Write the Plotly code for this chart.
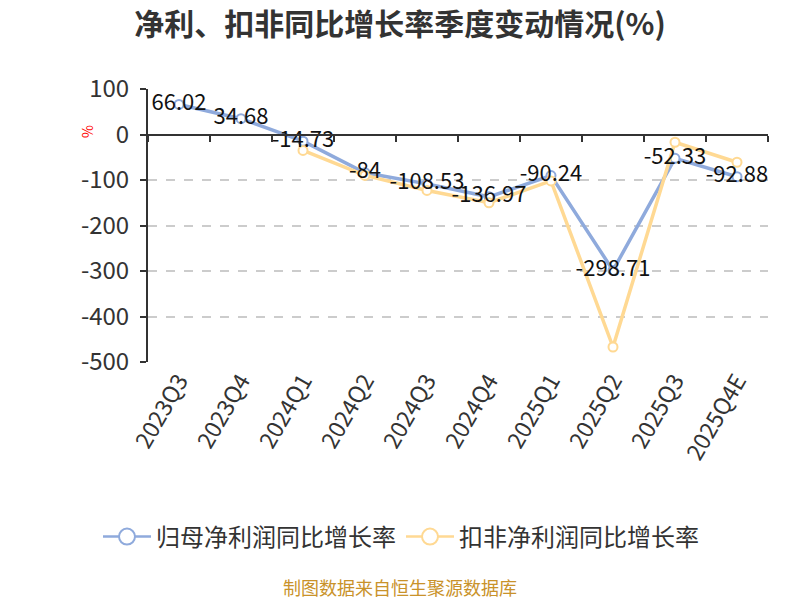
import plotly.graph_objects as go

categories = ["2023Q3", "2023Q4", "2024Q1", "2024Q2", "2024Q3", "2024Q4", "2025Q1", "2025Q2", "2025Q3", "2025Q4E"]
parent_growth = [66.02, 34.68, -14.73, -84, -108.53, -136.97, -90.24, -298.71, -52.33, -92.88]
deducted_growth = [66.02, 34.68, -35, -90, -123, -150, -102, -467, -17, -61]
parent_labels = ["66.02", "34.68", "-14.73", "-84", "-108.53", "-136.97", "-90.24", "-298.71", "-52.33", "-92.88"]
y_ticks = [100, 0, -100, -200, -300, -400, -500]
y_ticktext = ["100", "0", "-100", "-200", "-300", "-400", "-500"]
series_names = ["归母净利润同比增长率", "扣非净利润同比增长率"]

BLUE = "#8FAADC"
ORANGE = "#FFD993"
FONT = "Noto Sans CJK SC"

# deducted series starts at 2024Q1
ded_x = categories[2:]
ded_y = deducted_growth[2:]

fig = go.Figure()
fig.add_trace(go.Scatter(
    x=categories, y=parent_growth, mode="lines+markers", name=series_names[0],
    line=dict(color=BLUE, width=3.5), showlegend=False,
    marker=dict(symbol="circle", size=9, color="white", line=dict(color=BLUE, width=2)),
    xaxis="x", yaxis="y",
))
fig.add_trace(go.Scatter(
    x=ded_x, y=ded_y, mode="lines+markers", name=series_names[1],
    line=dict(color=ORANGE, width=3.5), showlegend=False,
    marker=dict(symbol="circle", size=9, color="white", line=dict(color=ORANGE, width=2)),
    xaxis="x", yaxis="y",
))
fig.add_trace(go.Scatter(
    x=categories, y=parent_growth, mode="text", text=parent_labels,
    textposition="middle center", textfont=dict(size=22, color="#111", family=FONT),
    showlegend=False, hoverinfo="skip", xaxis="x2", yaxis="y",
))
# legend entries (larger icons)
for nm, col in zip(series_names, [BLUE, ORANGE]):
    fig.add_trace(go.Scatter(
        x=[None], y=[None], mode="lines+markers", name=nm,
        line=dict(color=col, width=2.5),
        marker=dict(symbol="circle", size=16, color="white", line=dict(color=col, width=2)),
        xaxis="x", yaxis="y",
    ))

zero_pos = (0 - (-500)) / (100 - (-500))

fig.update_layout(
    width=800, height=600,
    margin=dict(l=148, r=32, t=89, b=238),
    paper_bgcolor="white", plot_bgcolor="white",
    font=dict(family=FONT, color="#333"),
    title=dict(text="<b>净利、扣非同比增长率季度变动情况(%)</b>", x=0.5, xanchor="center",
               y=1 - 24 / 600, yanchor="middle", font=dict(size=30, color="#333", family=FONT)),
    xaxis=dict(type="category", categoryorder="array", categoryarray=categories,
               range=[-0.5, 9.5], showline=False, showgrid=False, zeroline=False,
               ticks="", tickangle=-60, tickfont=dict(size=23, color="#333", family=FONT)),
    xaxis2=dict(type="category", categoryorder="array", categoryarray=categories,
                overlaying="x", anchor="free", position=zero_pos, matches="x",
                showline=True, linecolor="#333", linewidth=2, ticks="outside",
                tickson="boundaries", ticklen=6, tickcolor="#333", tickwidth=2,
                showticklabels=False, showgrid=False, zeroline=False),
    yaxis=dict(range=[-500, 100], tickvals=y_ticks, ticktext=y_ticktext,
               showline=True, linecolor="#333", linewidth=2, ticks="outside", ticklen=6,
               tickcolor="#333", tickwidth=2, showgrid=True, gridcolor="#cccccc", griddash="dash",
               gridwidth=1.5, zeroline=False, ticklabelstandoff=6,
               tickfont=dict(size=24, color="#333", family=FONT)),
    legend=dict(orientation="h", x=(401 - 148) / 620, xanchor="center", y=-(537 - 362) / 273,
                yanchor="middle", font=dict(size=24, color="#333", family=FONT), itemwidth=48),
    annotations=[
        dict(text="%", xref="paper", yref="paper", x=-(148 - 87) / 620, y=(362 - 132) / 273,
             xanchor="center", yanchor="middle", showarrow=False, textangle=-90,
             font=dict(size=14, color="red", family=FONT)),
        dict(text="制图数据来自恒生聚源数据库", xref="paper", yref="paper", x=(400 - 148) / 620,
             y=-(587 - 362) / 273, xanchor="center", yanchor="middle", showarrow=False,
             font=dict(size=18, color="#C9922A", family=FONT)),
    ],
)

fig.write_html("out.html")
